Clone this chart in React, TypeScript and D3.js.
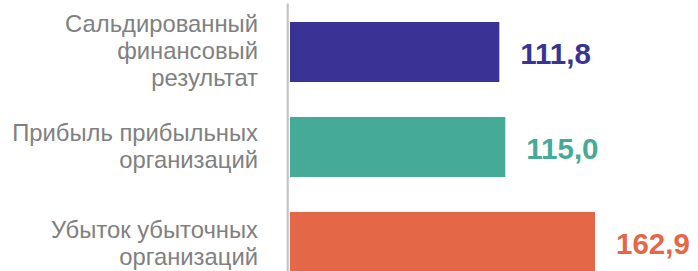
import { useEffect, useRef } from "react";
import * as d3 from "d3";

const WIDTH = 698;
const HEIGHT = 271;

const categories = [
  ["Сальдированный", "финансовый", "результат"],
  ["Прибыль прибыльных", "организаций"],
  ["Убыток убыточных", "организаций"],
];
const values = [111.8, 115.0, 162.9];
const colors = ["#393396", "#46AA98", "#E46847"];

const App = () => {
  const svgRef = useRef<SVGSVGElement | null>(null);

  useEffect(() => {
    const svg = d3.select(svgRef.current);
    svg.selectAll("*").remove();

    const keys = categories.map((_, i) => String(i));

    const x = d3.scaleLinear().domain([0, 162.9]).range([290, 595]);
    const y = d3
      .scaleBand()
      .domain(keys)
      .range([4.5, 289.5])
      .paddingInner(0.368)
      .paddingOuter(0.184);

    // bars
    svg
      .append("g")
      .selectAll("rect")
      .data(values)
      .join("rect")
      .attr("x", x(0))
      .attr("y", (_, i) => y(keys[i]) as number)
      .attr("width", (d) => x(d) - x(0))
      .attr("height", y.bandwidth())
      .attr("fill", (_, i) => colors[i]);

    // vertical axis line
    svg
      .append("line")
      .attr("x1", 287.7)
      .attr("x2", 287.7)
      .attr("y1", 3.5)
      .attr("y2", HEIGHT)
      .attr("stroke", "#c4c4c4")
      .attr("stroke-width", 2.2);

    // category labels
    const lineH = 27;
    const labels = svg
      .append("g")
      .attr("font-family", "Liberation Sans, Arial, sans-serif")
      .attr("font-size", 23.8)
      .attr("fill", "#808080")
      .attr("text-anchor", "end");

    categories.forEach((lines, i) => {
      const c = (y(keys[i]) as number) + y.bandwidth() / 2;
      const t = labels.append("text");
      lines.forEach((ln, j) => {
        t.append("tspan")
          .attr("x", 258)
          .attr("y", c + (j - (lines.length - 1) / 2) * lineH + 7 + (i === 2 ? 2 : 0))
          .text(ln);
      });
    });

    // value labels
    svg
      .append("g")
      .attr("font-family", "Liberation Sans, Arial, sans-serif")
      .attr("font-size", 29.5)
      .attr("font-weight", "bold")
      .selectAll("text")
      .data(values)
      .join("text")
      .attr("x", (d) => x(d) + 21)
      .attr("y", (_, i) => (y(keys[i]) as number) + y.bandwidth() / 2 + 12)
      .attr("fill", (_, i) => colors[i])
      .text((d) => d3.format(".1f")(d).replace(".", ","));
  }, []);

  return (
    <div style={{ position: "absolute", left: 0, top: 0 }}>
      <svg ref={svgRef} width={WIDTH} height={HEIGHT} style={{ display: "block" }} />
    </div>
  );
};

export default App;
